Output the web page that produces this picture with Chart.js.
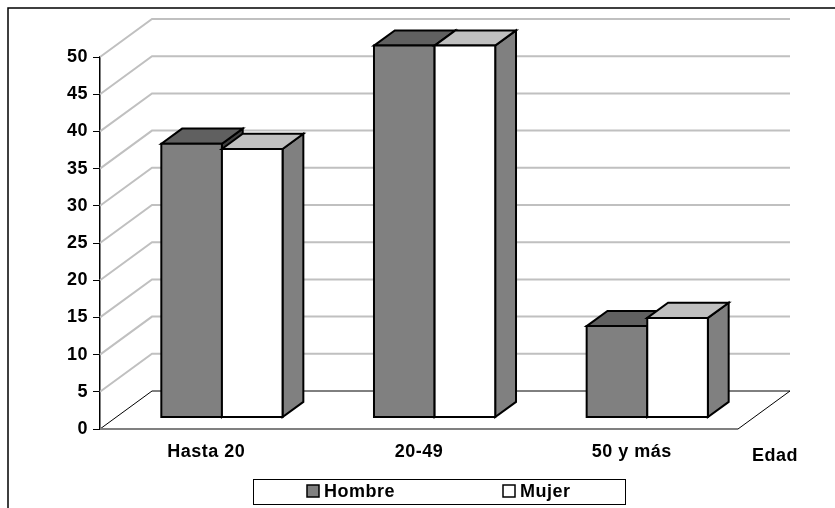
<!DOCTYPE html>
<html>
<head>
<meta charset="utf-8">
<script src="https://cdn.jsdelivr.net/npm/chart.js@4/dist/chart.umd.min.js"></script>
<style>
  html, body { margin: 0; padding: 0; background: #fff; }
  #wrap { width: 835px; height: 508px; position: relative; }
</style>
</head>
<body>
<div id="wrap"><canvas id="c"></canvas></div>
<script>
// Age groups and share (%) of men and women in each group
const categories = ['Hasta 20', '20-49', '50 y más'];
const hombre = [36.8, 50.0, 12.3];
const mujer = [36.1, 50.0, 13.4];
const seriesNames = ['Hombre', 'Mujer'];
const yTickValues = [0, 5, 10, 15, 20, 25, 30, 35, 40, 45, 50];
const xAxisTitle = 'Edad';

// Face shading of each series: front, top and side of the 3-D columns
const faces = [
  { front: '#808080', top: '#606060', side: '#404040' },
  { front: '#ffffff', top: '#c0c0c0', side: '#808080' }
];

// Oblique projection of the floor depth, and the depth slice taken by the columns
const DX = 52, DY = 38;
const BAR_FRONT = 0.30, BAR_BACK = 0.70;
const FAMILY = '"Liberation Sans", Arial, sans-serif';
const FONT = 'bold 18px ' + FAMILY;

const threeD = {
  id: 'threeD',
  beforeDraw(chart) {
    const ctx = chart.ctx;
    ctx.letterSpacing = '0.5px';
    // outer frame
    ctx.save();
    ctx.strokeStyle = '#000';
    ctx.lineWidth = 1.5;
    ctx.beginPath();
    ctx.moveTo(8, chart.height + 5);
    ctx.lineTo(8, 8);
    ctx.lineTo(chart.width + 5, 8);
    ctx.stroke();
    ctx.restore();
  },
  beforeDatasetsDraw(chart) {
    const ctx = chart.ctx, a = chart.chartArea, ys = chart.scales.y;
    ctx.save();
    // side and back walls
    ctx.lineWidth = 2;
    ctx.strokeStyle = '#c0c0c0';
    ys.ticks.forEach(t => {
      if (t.value === 0) return;
      const py = ys.getPixelForValue(t.value);
      ctx.beginPath();
      ctx.moveTo(a.left, py);
      ctx.lineTo(a.left + DX, py - DY);
      ctx.lineTo(a.right + DX, py - DY);
      ctx.stroke();
    });
    // floor
    const p0 = ys.getPixelForValue(0);
    ctx.lineWidth = 1;
    ctx.strokeStyle = '#000';
    ctx.beginPath();
    ctx.moveTo(a.left, p0);
    ctx.lineTo(a.left + DX, p0 - DY);
    ctx.lineTo(a.right + DX, p0 - DY);
    ctx.lineTo(a.right, p0);
    ctx.stroke();
    ctx.lineWidth = 2;
    ctx.strokeStyle = '#808080';
    ctx.beginPath();
    ctx.moveTo(a.left, p0);
    ctx.lineTo(a.right, p0);
    ctx.stroke();

    // columns, drawn back-to-front per category
    const fx = BAR_FRONT * DX, fy = BAR_FRONT * DY;
    const bx = BAR_BACK * DX, by = BAR_BACK * DY;
    ctx.lineWidth = 2;
    ctx.lineJoin = 'miter';
    ctx.strokeStyle = '#000';
    const n = chart.data.labels.length;
    for (let i = 0; i < n; i++) {
      chart.data.datasets.forEach((ds, d) => {
        const el = chart.getDatasetMeta(d).data[i];
        const l = el.x - el.width / 2, r = el.x + el.width / 2;
        const top = el.y, base = el.base;
        const f = faces[d];
        const poly = (pts, fill) => {
          ctx.beginPath();
          ctx.moveTo(pts[0][0], pts[0][1]);
          for (let k = 1; k < pts.length; k++) ctx.lineTo(pts[k][0], pts[k][1]);
          ctx.closePath();
          ctx.fillStyle = fill;
          ctx.fill();
          ctx.stroke();
        };
        // side
        poly([[r + fx, top - fy], [r + bx, top - by], [r + bx, base - by], [r + fx, base - fy]], f.side);
        // top
        poly([[l + fx, top - fy], [l + bx, top - by], [r + bx, top - by], [r + fx, top - fy]], f.top);
        // front
        poly([[l + fx, top - fy], [r + fx, top - fy], [r + fx, base - fy], [l + fx, base - fy]], f.front);
      });
    }
    ctx.restore();
    return false;
  },
  afterDraw(chart) {
    const ctx = chart.ctx;
    ctx.save();
    ctx.font = FONT;
    ctx.fillStyle = '#000';
    ctx.textBaseline = 'middle';
    // axis title
    ctx.textAlign = 'center';
    ctx.fillText(xAxisTitle, 775, 456);
    // legend
    ctx.lineWidth = 1;
    ctx.strokeStyle = '#000';
    ctx.strokeRect(253.5, 479.5, 372, 25);
    const items = [{ x: 307 }, { x: 503 }];
    ctx.textAlign = 'left';
    chart.data.datasets.forEach((ds, d) => {
      const sx = items[d].x;
      ctx.fillStyle = faces[d].front;
      ctx.fillRect(sx, 485, 12, 12);
      ctx.lineWidth = 1.5;
      ctx.strokeRect(sx, 485, 12, 12);
      ctx.fillStyle = '#000';
      ctx.fillText(ds.label, sx + 17, 492);
    });
    ctx.restore();
  }
};

new Chart(document.getElementById('c'), {
  type: 'bar',
  data: {
    labels: categories,
    datasets: [
      { label: seriesNames[0], data: hombre, backgroundColor: faces[0].front },
      { label: seriesNames[1], data: mujer, backgroundColor: faces[1].front }
    ]
  },
  options: {
    responsive: true,
    maintainAspectRatio: false,
    animation: false,
    datasets: { bar: { categoryPercentage: 0.57, barPercentage: 1.0 } },
    layout: { padding: { left: 0, top: 57, right: 97, bottom: 0 } },
    plugins: { legend: { display: false }, tooltip: { enabled: false } },
    scales: {
      x: {
        grid: { display: false, drawTicks: false },
        border: { display: false },
        ticks: { color: '#000', font: { family: FAMILY, size: 18, weight: 'bold' }, padding: 12, maxRotation: 0 },
        afterFit: s => { s.height = 79; }
      },
      y: {
        min: 0,
        max: 50,
        afterBuildTicks: s => { s.ticks = yTickValues.map(v => ({ value: v })); },
        grid: { drawOnChartArea: false, drawTicks: true, tickLength: 7, color: '#000', lineWidth: 1 },
        border: { display: true, color: '#000', width: 1.5 },
        ticks: { color: '#000', font: { family: FAMILY, size: 18, weight: 'bold' }, padding: 5 },
        afterFit: s => { s.width = 100; }
      }
    }
  },
  plugins: [threeD]
});
</script>
</body>
</html>
